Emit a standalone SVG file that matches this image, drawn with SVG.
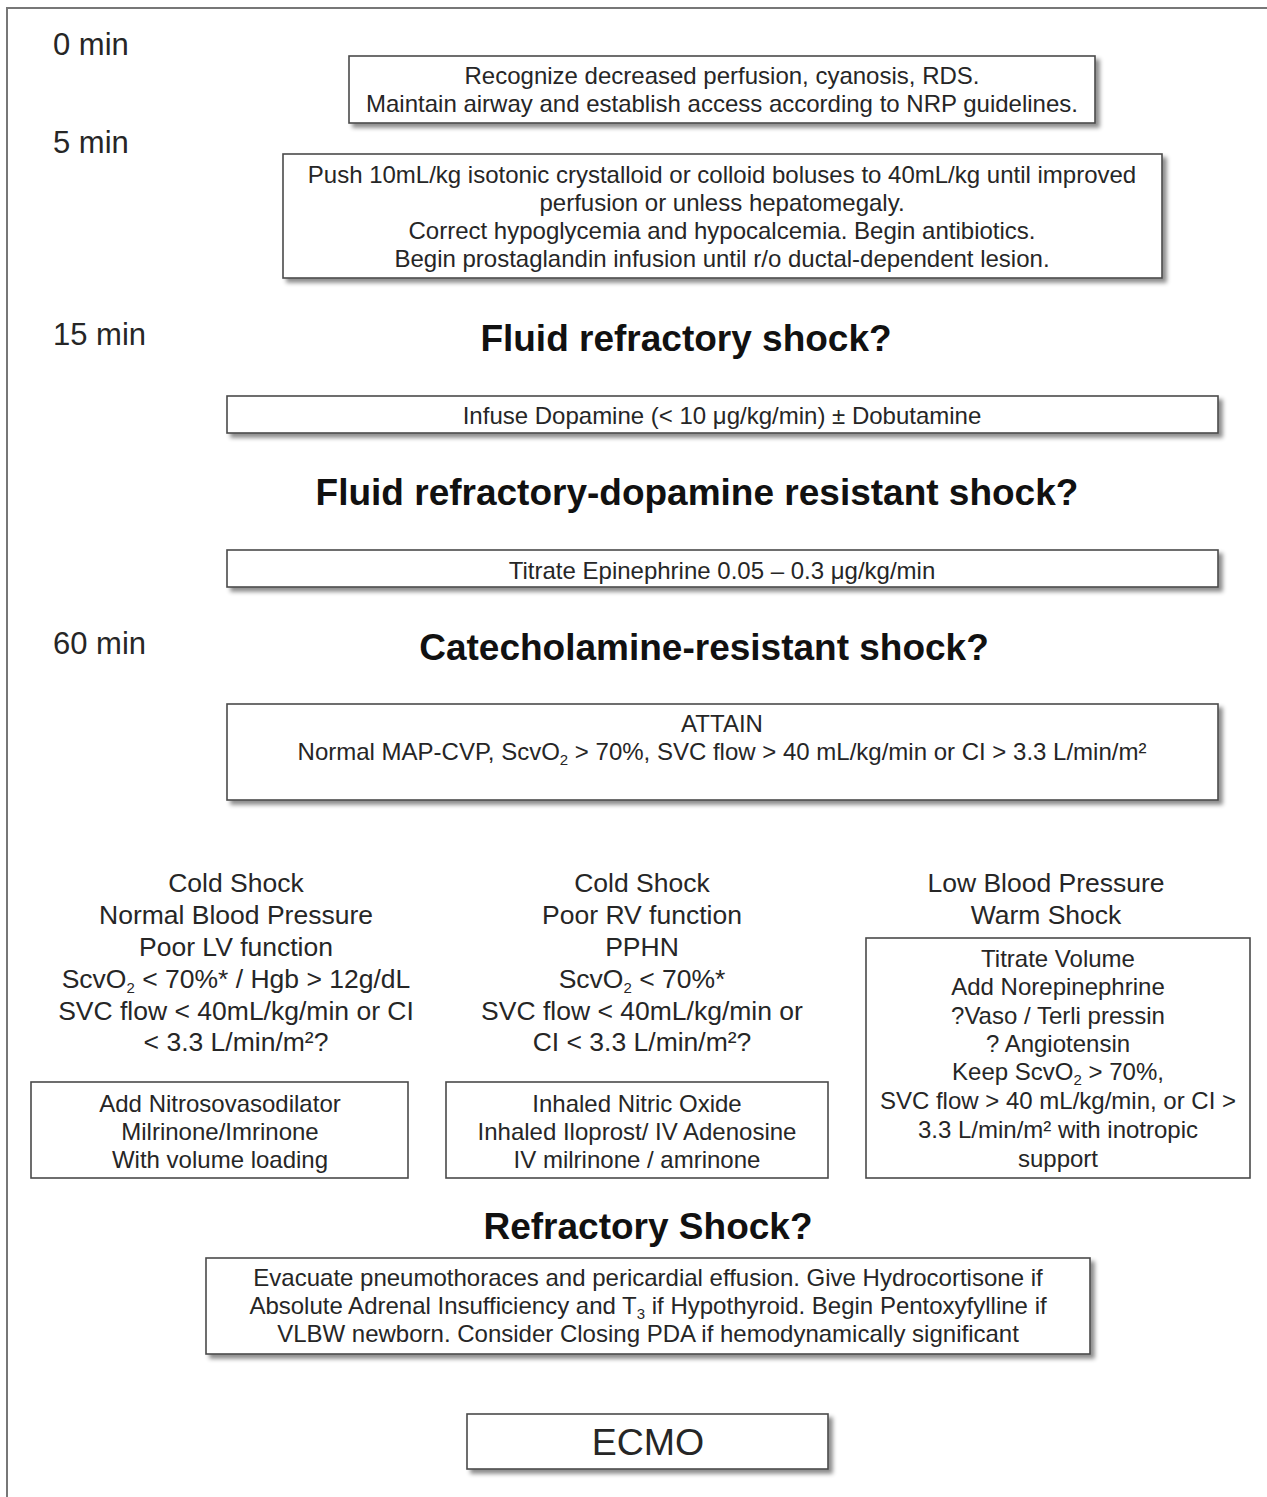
<svg xmlns="http://www.w3.org/2000/svg" width="1267" height="1497" viewBox="0 0 1267 1497">
<defs>
<filter id="sh" x="-5%" y="-20%" width="112%" height="150%">
<feDropShadow dx="4" dy="4" stdDeviation="2" flood-color="#000" flood-opacity="0.45"/>
</filter>
<style>
text{font-family:"Liberation Sans",Arial,Helvetica,sans-serif;fill:#262626;text-anchor:middle}
.time{font-size:31px;text-anchor:start}
.h{font-size:37px;font-weight:bold;fill:#111}
.b{font-size:24px}
.c{font-size:26.5px}
.bx{fill:#fff;stroke:#4a4a4a;stroke-width:1.6}
.sub{font-size:15px}
</style>
</defs>
<rect width="1267" height="1497" fill="#fff"/>
<path d="M7,1497 V8 H1267" fill="none" stroke="#777" stroke-width="2"/>

<g id="time-labels">
<text class="time" x="53" y="55">0 min</text>
<text class="time" x="53" y="153">5 min</text>
<text class="time" x="53" y="345">15 min</text>
<text class="time" x="53" y="654">60 min</text>
</g>

<g id="n1">
<rect class="bx" x="349" y="56" width="746" height="67" filter="url(#sh)"/>
<text class="b" x="722" y="84">Recognize decreased perfusion, cyanosis, RDS.</text>
<text class="b" x="722" y="112">Maintain airway and establish access according to NRP guidelines.</text>
</g>

<g id="n2">
<rect class="bx" x="283" y="154" width="879" height="124" filter="url(#sh)"/>
<text class="b" x="722" y="183">Push 10mL/kg isotonic crystalloid or colloid boluses to 40mL/kg until improved</text>
<text class="b" x="722" y="211">perfusion or unless hepatomegaly.</text>
<text class="b" x="722" y="239">Correct hypoglycemia and hypocalcemia. Begin antibiotics.</text>
<text class="b" x="722" y="267">Begin prostaglandin infusion until r/o ductal-dependent lesion.</text>
</g>

<g id="q1"><text class="h" x="686" y="351">Fluid refractory shock?</text></g>

<g id="n3">
<rect class="bx" x="227" y="396" width="991" height="37" filter="url(#sh)"/>
<text class="b" x="722" y="424">Infuse Dopamine (&lt; 10 μg/kg/min) ± Dobutamine</text>
</g>

<g id="q2"><text class="h" x="697" y="505">Fluid refractory-dopamine resistant shock?</text></g>

<g id="n4">
<rect class="bx" x="227" y="550" width="991" height="37" filter="url(#sh)"/>
<text class="b" x="722" y="579">Titrate Epinephrine 0.05 – 0.3 μg/kg/min</text>
</g>

<g id="q3"><text class="h" x="704" y="660">Catecholamine-resistant shock?</text></g>

<g id="n5">
<rect class="bx" x="227" y="704" width="991" height="96" filter="url(#sh)"/>
<text class="b" x="722" y="732">ATTAIN</text>
<text class="b" x="722" y="760">Normal MAP-CVP, ScvO<tspan class="sub" dy="5">2</tspan><tspan dy="-5"> &gt; 70%, SVC flow &gt; 40 mL/kg/min or CI &gt; 3.3 L/min/m²</tspan></text>
</g>

<g id="c1">
<text class="c" x="236" y="892">Cold Shock</text>
<text class="c" x="236" y="924">Normal Blood Pressure</text>
<text class="c" x="236" y="956">Poor LV function</text>
<text class="c" x="236" y="988">ScvO<tspan class="sub" dy="5">2</tspan><tspan dy="-5"> &lt; 70%* / Hgb &gt; 12g/dL</tspan></text>
<text class="c" x="236" y="1020">SVC flow &lt; 40mL/kg/min or CI</text>
<text class="c" x="236" y="1051">&lt; 3.3 L/min/m²?</text>
</g>

<g id="c2">
<text class="c" x="642" y="892">Cold Shock</text>
<text class="c" x="642" y="924">Poor RV function</text>
<text class="c" x="642" y="956">PPHN</text>
<text class="c" x="642" y="988">ScvO<tspan class="sub" dy="5">2</tspan><tspan dy="-5"> &lt; 70%*</tspan></text>
<text class="c" x="642" y="1020">SVC flow &lt; 40mL/kg/min or</text>
<text class="c" x="642" y="1051">CI &lt; 3.3 L/min/m²?</text>
</g>

<g id="c3">
<text class="c" x="1046" y="892">Low Blood Pressure</text>
<text class="c" x="1046" y="924">Warm Shock</text>
</g>

<g id="n6">
<rect class="bx" x="31" y="1082" width="377" height="96"/>
<text class="b" x="220" y="1112">Add Nitrosovasodilator</text>
<text class="b" x="220" y="1140">Milrinone/Imrinone</text>
<text class="b" x="220" y="1168">With volume loading</text>
</g>

<g id="n7">
<rect class="bx" x="446" y="1082" width="382" height="96"/>
<text class="b" x="637" y="1112">Inhaled Nitric Oxide</text>
<text class="b" x="637" y="1140">Inhaled Iloprost/ IV Adenosine</text>
<text class="b" x="637" y="1168">IV milrinone / amrinone</text>
</g>

<g id="n8">
<rect class="bx" x="866" y="938" width="384" height="240"/>
<text class="b" x="1058" y="967">Titrate Volume</text>
<text class="b" x="1058" y="995">Add Norepinephrine</text>
<text class="b" x="1058" y="1024">?Vaso / Terli pressin</text>
<text class="b" x="1058" y="1052">? Angiotensin</text>
<text class="b" x="1058" y="1080">Keep ScvO<tspan class="sub" dy="5">2</tspan><tspan dy="-5"> &gt; 70%,</tspan></text>
<text class="b" x="1058" y="1109">SVC flow &gt; 40 mL/kg/min, or CI &gt;</text>
<text class="b" x="1058" y="1138">3.3 L/min/m² with inotropic</text>
<text class="b" x="1058" y="1167">support</text>
</g>

<g id="q4"><text class="h" x="648" y="1239">Refractory Shock?</text></g>

<g id="n9">
<rect class="bx" x="206" y="1258" width="884" height="96" filter="url(#sh)"/>
<text class="b" x="648" y="1286">Evacuate pneumothoraces and pericardial effusion. Give Hydrocortisone if</text>
<text class="b" x="648" y="1314">Absolute Adrenal Insufficiency and T<tspan class="sub" dy="5">3</tspan><tspan dy="-5"> if Hypothyroid. Begin Pentoxyfylline if</tspan></text>
<text class="b" x="648" y="1342">VLBW newborn. Consider Closing PDA if hemodynamically significant</text>
</g>

<g id="n10">
<rect class="bx" x="467" y="1414" width="361" height="55" filter="url(#sh)"/>
<text x="648" y="1455" style="font-size:37.5px">ECMO</text>
</g>

<g id="connectors"></g>
</svg>
